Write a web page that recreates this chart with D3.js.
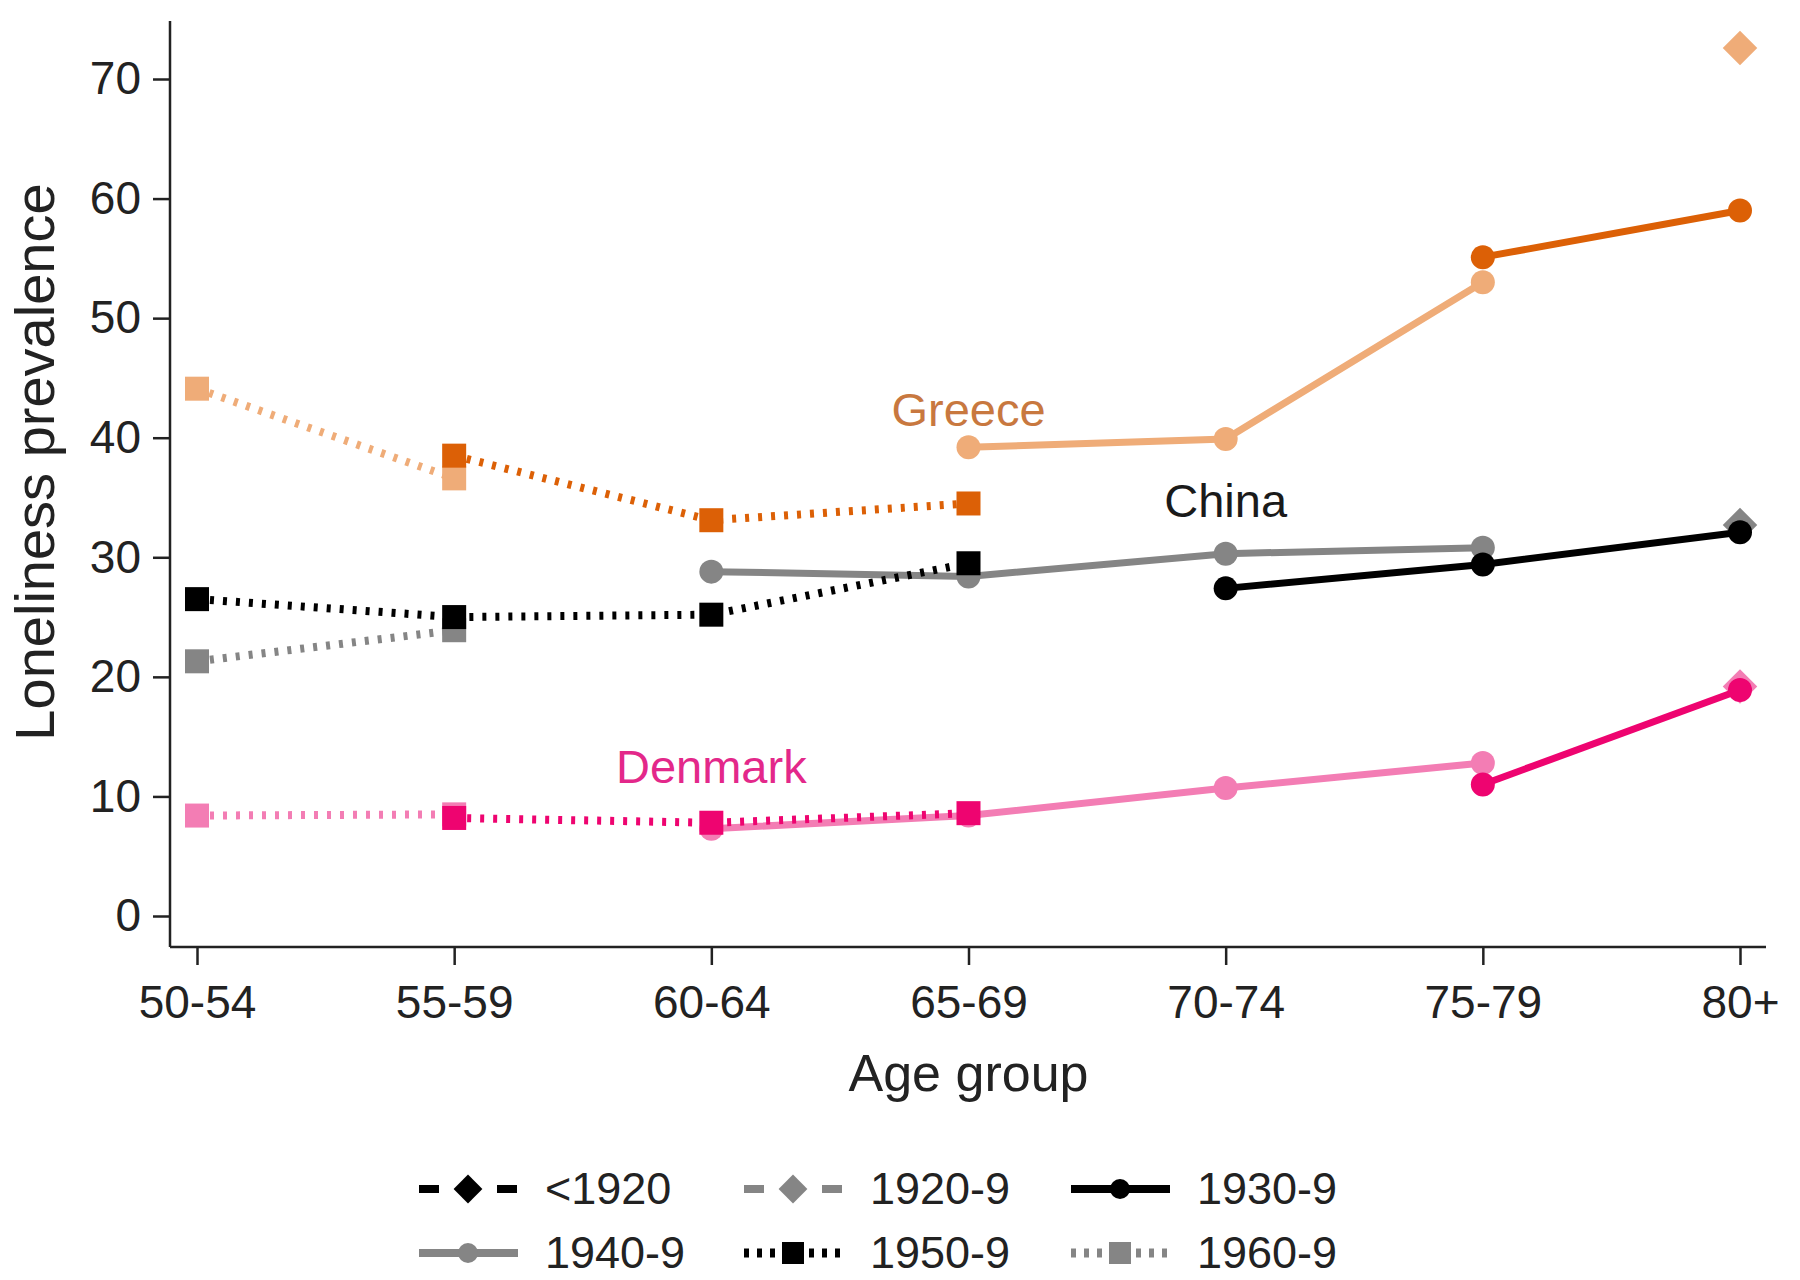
<!DOCTYPE html>
<html>
<head>
<meta charset="utf-8">
<script src="https://cdn.jsdelivr.net/npm/d3@7"></script>
<style>
  body { margin: 0; background: #fff; }
  text { font-family: "Liberation Sans", Arial, sans-serif; }
</style>
</head>
<body>
<div id="chart-area"></div>
<script>
//============================DATA============================
var ageGroups = ["50-54", "55-59", "60-64", "65-69", "70-74", "75-79", "80+"];
var yTicks = [0, 10, 20, 30, 40, 50, 60, 70];
var cohorts = ["<1920", "1920-9", "1930-9", "1940-9", "1950-9", "1960-9"];

// values per country and cohort, null where the cohort was not observed
var greece1920 = [null, null, null, null, null, null, 72.6];
var greece1930 = [null, null, null, null, null, 55.1, 59.0];
var greece1940 = [null, null, null, 39.2, 39.9, 53.0, null];
var greece1950 = [null, 38.5, 33.1, 34.5, null, null, null];
var greece1960 = [44.1, 36.6, null, null, null, null, null];

var china1920 = [null, null, null, null, null, null, 32.7];
var china1930 = [null, null, null, null, 27.4, 29.4, 32.1];
var china1940 = [null, null, 28.8, 28.4, 30.3, 30.8, null];
var china1950 = [26.5, 25.0, 25.2, 29.5, null, null, null];
var china1960 = [21.3, 23.9, null, null, null, null, null];

var denmark1920 = [null, null, null, null, null, null, 19.2];
var denmark1930 = [null, null, null, null, null, 11.0, 18.9];
var denmark1940 = [null, null, 7.3, 8.4, 10.7, 12.8, null];
var denmark1950 = [null, 8.2, 7.8, 8.6, null, null, null];
var denmark1960 = [8.4, 8.5, null, null, null, null, null];

var countryLabels = ["Greece", "China", "Denmark"];

//============================LAYOUT============================
var margins = { left: 170, right: 34, top: 21, bottom: 333 };
var width = 1800 - margins.left - margins.right;
var height = 1280 - margins.top - margins.bottom;

var colors = {
    Greece: { dark: "#dc6006", light: "#efac78", text: "#c8783f" },
    China: { dark: "#000000", light: "#858585", text: "#1a1a1a" },
    Denmark: { dark: "#ee0470", light: "#f37db4", text: "#e3288a" }
};

// cohort -> line style / marker
var styles = {
    "<1920":  { shade: "dark",  dash: "16 10", width: 7, marker: "diamond" },
    "1920-9": { shade: "light", dash: "16 10", width: 7, marker: "diamond" },
    "1930-9": { shade: "dark",  dash: null,    width: 7, marker: "circle" },
    "1940-9": { shade: "light", dash: null,    width: 7, marker: "circle" },
    "1950-9": { shade: "dark",  dash: "4 9",   width: 8, marker: "square" },
    "1960-9": { shade: "light", dash: "4 9",   width: 8, marker: "square" }
};

var svg = d3.select("#chart-area")
    .append("svg")
    .attr("width", 1800)
    .attr("height", 1280);

var g = svg.append("g")
    .attr("transform", "translate(" + margins.left + ", " + margins.top + ")");

var x = d3.scalePoint()
    .domain(ageGroups)
    .range([27, width - 26]);

var y = d3.scaleLinear()
    .domain([0, 70])
    .range([895, 58]);

//============================AXES============================
var xAxis = g.append("g")
    .attr("transform", "translate(0," + height + ")")
    .call(d3.axisBottom(x).tickSize(18).tickPadding(20).tickSizeOuter(0));

var yAxis = g.append("g")
    .call(d3.axisLeft(y).tickValues(yTicks).tickSize(17).tickPadding(12).tickSizeOuter(0));

[xAxis, yAxis].forEach(function(ax) {
    ax.select(".domain").remove();
    ax.selectAll("line").attr("stroke", "#222").attr("stroke-width", 2.5);
    ax.selectAll("text").attr("font-size", "46px").attr("fill", "#222")
        .attr("font-family", "Liberation Sans, Arial, sans-serif");
});

// axis lines (Stata style L frame)
g.append("line")
    .attr("x1", 0).attr("x2", 0).attr("y1", 0).attr("y2", height)
    .attr("stroke", "#222").attr("stroke-width", 2.5);
g.append("line")
    .attr("x1", 0).attr("x2", width).attr("y1", height).attr("y2", height)
    .attr("stroke", "#222").attr("stroke-width", 2.5);

g.append("text")
    .attr("x", x("65-69"))
    .attr("y", 1070)
    .attr("font-size", "52px")
    .attr("text-anchor", "middle")
    .attr("fill", "#222")
    .text("Age group");

g.append("text")
    .attr("transform", "rotate(-90)")
    .attr("x", -441)
    .attr("y", -116)
    .attr("font-size", "56px")
    .attr("text-anchor", "middle")
    .attr("fill", "#222")
    .text("Loneliness prevalence");

//============================SERIES============================
var series = [
    { country: "Greece", cohort: "1920-9", values: greece1920 },
    { country: "Greece", cohort: "1940-9", values: greece1940 },
    { country: "Greece", cohort: "1960-9", values: greece1960 },
    { country: "Greece", cohort: "1930-9", values: greece1930 },
    { country: "Greece", cohort: "1950-9", values: greece1950 },
    { country: "China", cohort: "1920-9", values: china1920 },
    { country: "China", cohort: "1940-9", values: china1940 },
    { country: "China", cohort: "1960-9", values: china1960 },
    { country: "China", cohort: "1930-9", values: china1930 },
    { country: "China", cohort: "1950-9", values: china1950 },
    { country: "Denmark", cohort: "1920-9", values: denmark1920 },
    { country: "Denmark", cohort: "1940-9", values: denmark1940 },
    { country: "Denmark", cohort: "1960-9", values: denmark1960 },
    { country: "Denmark", cohort: "1930-9", values: denmark1930 },
    { country: "Denmark", cohort: "1950-9", values: denmark1950 }
];

function drawMarker(sel, type, color, cx, cy, size) {
    if (type === "circle") {
        sel.append("circle").attr("cx", cx).attr("cy", cy).attr("r", size / 2).attr("fill", color);
    } else if (type === "square") {
        sel.append("rect").attr("x", cx - size / 2).attr("y", cy - size / 2)
            .attr("width", size).attr("height", size).attr("fill", color);
    } else {
        var s = size * 0.72;
        sel.append("path")
            .attr("d", "M" + cx + "," + (cy - s) + "L" + (cx + s) + "," + cy + "L" + cx + "," + (cy + s) + "L" + (cx - s) + "," + cy + "Z")
            .attr("fill", color);
    }
}

var line = d3.line()
    .defined(function(d) { return d.v !== null; })
    .x(function(d) { return x(d.age); })
    .y(function(d) { return y(d.v); });

series.forEach(function(s) {
    var st = styles[s.cohort];
    var color = colors[s.country][st.shade];
    var pts = s.values.map(function(v, i) { return { age: ageGroups[i], v: v }; });
    var sg = g.append("g");
    sg.append("path")
        .datum(pts)
        .attr("fill", "none")
        .attr("stroke", color)
        .attr("stroke-width", st.width)
        .attr("stroke-dasharray", st.dash)
        .attr("d", line);
    pts.filter(function(d) { return d.v !== null; }).forEach(function(d) {
        drawMarker(sg, st.marker, color, x(d.age), y(d.v), 24);
    });
});

//============================COUNTRY LABELS============================
var labelPos = [
    { age: "65-69", v: 41.0 },
    { age: "70-74", v: 33.4 },
    { age: "60-64", v: 11.1 }
];
countryLabels.forEach(function(c, i) {
    g.append("text")
        .attr("x", x(labelPos[i].age))
        .attr("y", y(labelPos[i].v))
        .attr("font-size", "47px")
        .attr("text-anchor", "middle")
        .attr("fill", colors[c].text)
        .text(c);
});

//============================LEGEND============================
var legendX = [419, 744, 1071];
var legendY = [1189, 1253];
var legend = svg.append("g");
cohorts.forEach(function(c, i) {
    var st = styles[c];
    var color = st.shade === "dark" ? "#000000" : "#858585";
    var lx = legendX[i % 3];
    var ly = legendY[Math.floor(i / 3)];
    var dash = st.dash === null ? null : (st.marker === "diamond" ? "20 58" : "5 8");
    legend.append("line")
        .attr("x1", lx).attr("x2", lx + 99)
        .attr("y1", ly).attr("y2", ly)
        .attr("stroke", color)
        .attr("stroke-width", st.width + 1)
        .attr("stroke-dasharray", dash);
    drawMarker(legend, st.marker, color, lx + 49, ly, st.marker === "square" ? 22 : 20);
    legend.append("text")
        .attr("x", lx + 126)
        .attr("y", ly + 15)
        .attr("font-size", "45px")
        .attr("fill", "#222")
        .text(c);
});
</script>
</body>
</html>
